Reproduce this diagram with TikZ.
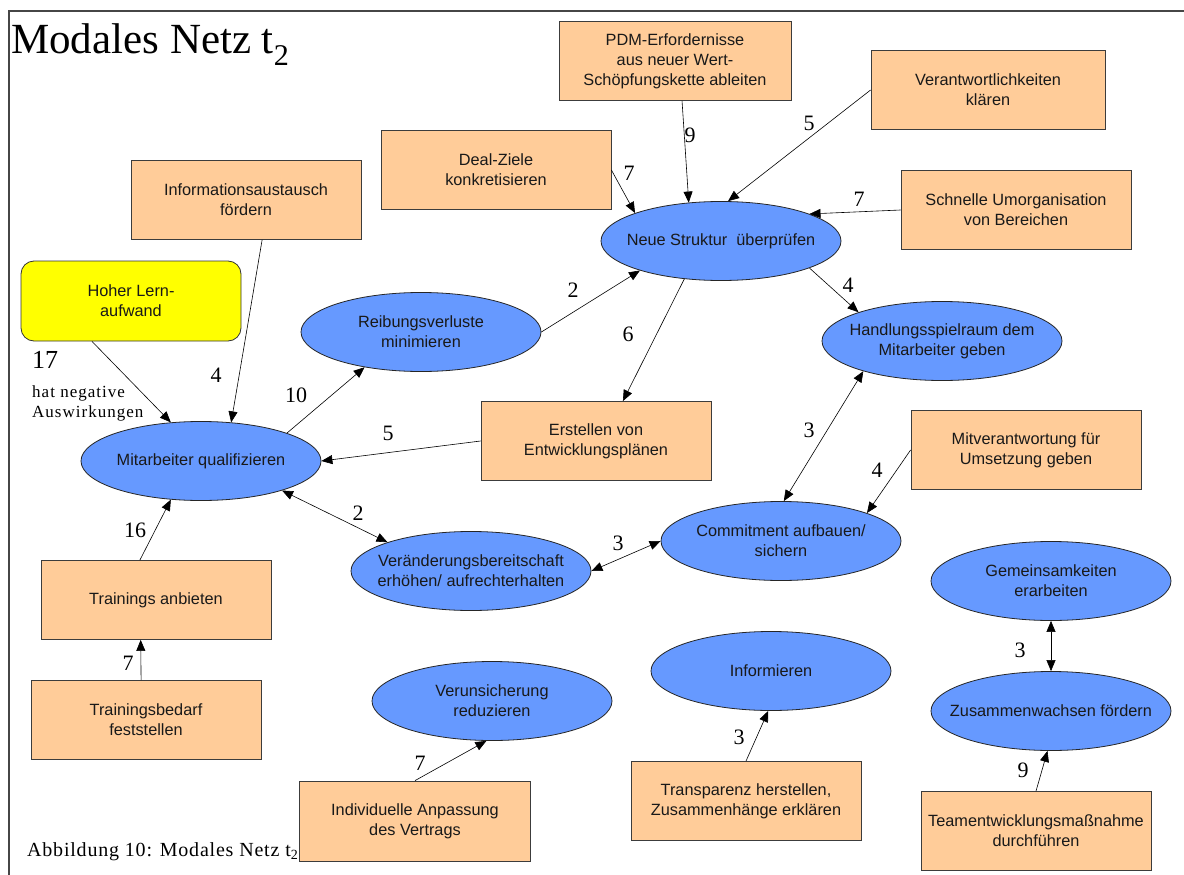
\documentclass[tikz,border=0pt]{standalone}
\usepackage{fontspec}
\setmainfont{Liberation Serif}
\setsansfont{Liberation Sans}
\usetikzlibrary{shapes.geometric,arrows.meta}

\definecolor{boxfill}{RGB}{255,204,153}
\definecolor{ellfill}{RGB}{102,153,255}
\definecolor{lernfill}{RGB}{255,255,0}
\definecolor{edgecol}{RGB}{60,60,60}
\definecolor{framecol}{RGB}{70,70,70}

\begin{document}
\begin{tikzpicture}[x=1pt,y=-1pt,
  boxtext/.style={font=\sffamily\fontsize{16.3}{20}\selectfont, align=center, text=black!90},
  taskbox/.style={boxtext, draw=edgecol, line width=0.8pt, fill=boxfill,
    minimum width=230pt, minimum height=79pt, inner sep=0pt},
  goal/.style={boxtext, ellipse, draw=black!85, line width=0.8pt, fill=ellfill,
    minimum width=240pt, minimum height=79pt, inner xsep=-40pt, inner ysep=0pt},
  effort/.style={boxtext, draw=black!80, line width=0.8pt, fill=lernfill, rounded corners=13pt,
    minimum width=220pt, minimum height=80pt, inner sep=0pt},
  weight/.style={font=\fontsize{22}{24}\selectfont, inner sep=0pt},
  link/.style={line width=0.6pt, -{Triangle[length=11pt,width=9pt]}},
  mutual/.style={line width=0.6pt, {Triangle[length=11pt,width=9pt]}-{Triangle[length=11pt,width=9pt]}}]

\useasboundingbox (0,0) rectangle (1184,875);
\fill[white] (0,0) rectangle (1184,875);

% frame
\draw[framecol, line width=1.3pt] (9,875) -- (9,11) -- (1184,11);

% title and caption
\node[anchor=base west, inner sep=0pt, font=\fontsize{43}{43}\selectfont] (title) at (11,54)
  {Modales Netz t\textsubscript{2}};
\node[anchor=base west, inner sep=0pt, font=\fontsize{20}{22}\selectfont\addfontfeatures{LetterSpace=4}] (caption) at (27,856)
  {Abbildung 10: Modales Netz t\textsubscript{2}};

% measures (boxes)
\node[taskbox, minimum width=232pt] (pdm) at (675,61) {PDM-Erfordernisse\\aus neuer Wert-\\Schöpfungskette ableiten};
\node[taskbox, minimum width=234pt] (verant) at (988,90) {Verantwortlichkeiten\\klären};
\node[taskbox] (deal) at (496,170) {Deal-Ziele\\konkretisieren};
\node[taskbox] (schnelle) at (1016,210) {Schnelle Umorganisation\\von Bereichen};
\node[taskbox] (infoaus) at (246,200) {Informationsaustausch\\fördern};
\node[effort] (hoher) at (131,301) {Hoher Lern-\\aufwand};
\node[taskbox] (erst) at (596,441) {Erstellen von\\Entwicklungsplänen};
\node[taskbox] (mitv) at (1026,450) {Mitverantwortung für\\Umsetzung geben};
\node[taskbox] (tranb) at (156,600) {Trainings anbieten};
\node[taskbox] (tbed) at (146,720) {Trainingsbedarf\\feststellen};
\node[taskbox, minimum width=231pt, minimum height=80pt] (indiv) at (415,821) {Individuelle Anpassung\\des Vertrags};
\node[taskbox] (transp) at (746,801) {Transparenz herstellen,\\Zusammenhänge erklären};
\node[taskbox] (team) at (1036,831) {Teamentwicklungsmaßnahme\\durchführen};

% goals (ellipses)
\node[goal] (neue) at (721,241) {Neue Struktur\ \ überprüfen};
\node[goal] (reib) at (421,332) {Reibungsverluste\\minimieren};
\node[goal] (hand) at (942,341) {Handlungsspielraum dem\\Mitarbeiter geben};
\node[goal] (mita) at (201,461) {Mitarbeiter qualifizieren};
\node[goal] (comm) at (781,541) {Commitment aufbauen/\\sichern};
\node[goal] (ver) at (471,571) {Veränderungsbereitschaft\\erhöhen/ aufrechterhalten};
\node[goal] (gem) at (1051,581) {Gemeinsamkeiten\\erarbeiten};
\node[goal] (zus) at (1051,711) {Zusammenwachsen fördern};
\node[goal] (unsi) at (492,701) {Verunsicherung\\reduzieren};
\node[goal] (info) at (771,671) {Informieren};

% connectors
\draw[link] (pdm.-80) -- (neue.130);
\draw[link] (verant.west) -- (neue.80);
\draw[link] (deal.east) -- (neue.162);
\draw[link] (schnelle.west) -- (neue.17);
\draw[link] (neue.-17) -- (hand.161);
\draw[link] (neue.-134) -- (erst.56);
\draw[link] (reib.east) -- (neue.200);
\draw[link] (infoaus.-68) -- (mita.52);
\draw[link] (hoher.-134) -- (mita.128);
\draw[link] (mita.18) -- (reib.212);
\draw[link] (erst.west) -- (mita.east);
\draw[mutual] (mita.-20) -- (ver.161);
\draw[mutual] (ver.east) -- (comm.west);
\draw[mutual] (hand.201) -- (comm.86);
\draw[link] (mitv.west) -- (comm.18);
\draw[link] (tranb.112) -- (mita.232);
\draw[link] (tbed.97) -- (tranb.249);
\draw[link] (indiv.north) -- (unsi.262);
\draw[link] (transp.north) -- (info.266);
\draw[mutual] (zus.north) -- (gem.south);
\draw[link] (team.north) -- (zus.265);

% weights
\node[weight] (w1) at (690,135) {9};
\node[weight] (w2) at (809,123) {5};
\node[weight] (w3) at (629,173) {7};
\node[weight] (w4) at (859,199) {7};
\node[weight] (w5) at (848,285) {4};
\node[weight] (w6) at (628,334) {6};
\node[weight] (w7) at (573,290) {2};
\node[weight] (w8) at (216,375) {4};
\node[weight, font=\fontsize{26}{28}\selectfont] (w9) at (45,360) {17};
\node[anchor=north west, inner sep=0pt, align=left, font=\fontsize{17}{20}\selectfont\addfontfeatures{LetterSpace=6}] (w9note) at (32,386)
  {hat negative\\Auswirkungen};
\node[weight] (w10) at (296,395) {10};
\node[weight] (w11) at (388,433) {5};
\node[weight] (w12) at (358,513) {2};
\node[weight] (w13) at (618,543) {3};
\node[weight] (w14) at (809,430) {3};
\node[weight] (w15) at (877,470) {4};
\node[weight] (w16) at (135,530) {16};
\node[weight] (w17) at (128,663) {7};
\node[weight] (w18) at (420,763) {7};
\node[weight] (w19) at (739,737) {3};
\node[weight] (w20) at (1020,650) {3};
\node[weight] (w21) at (1023,770) {9};

\end{tikzpicture}
\end{document}
